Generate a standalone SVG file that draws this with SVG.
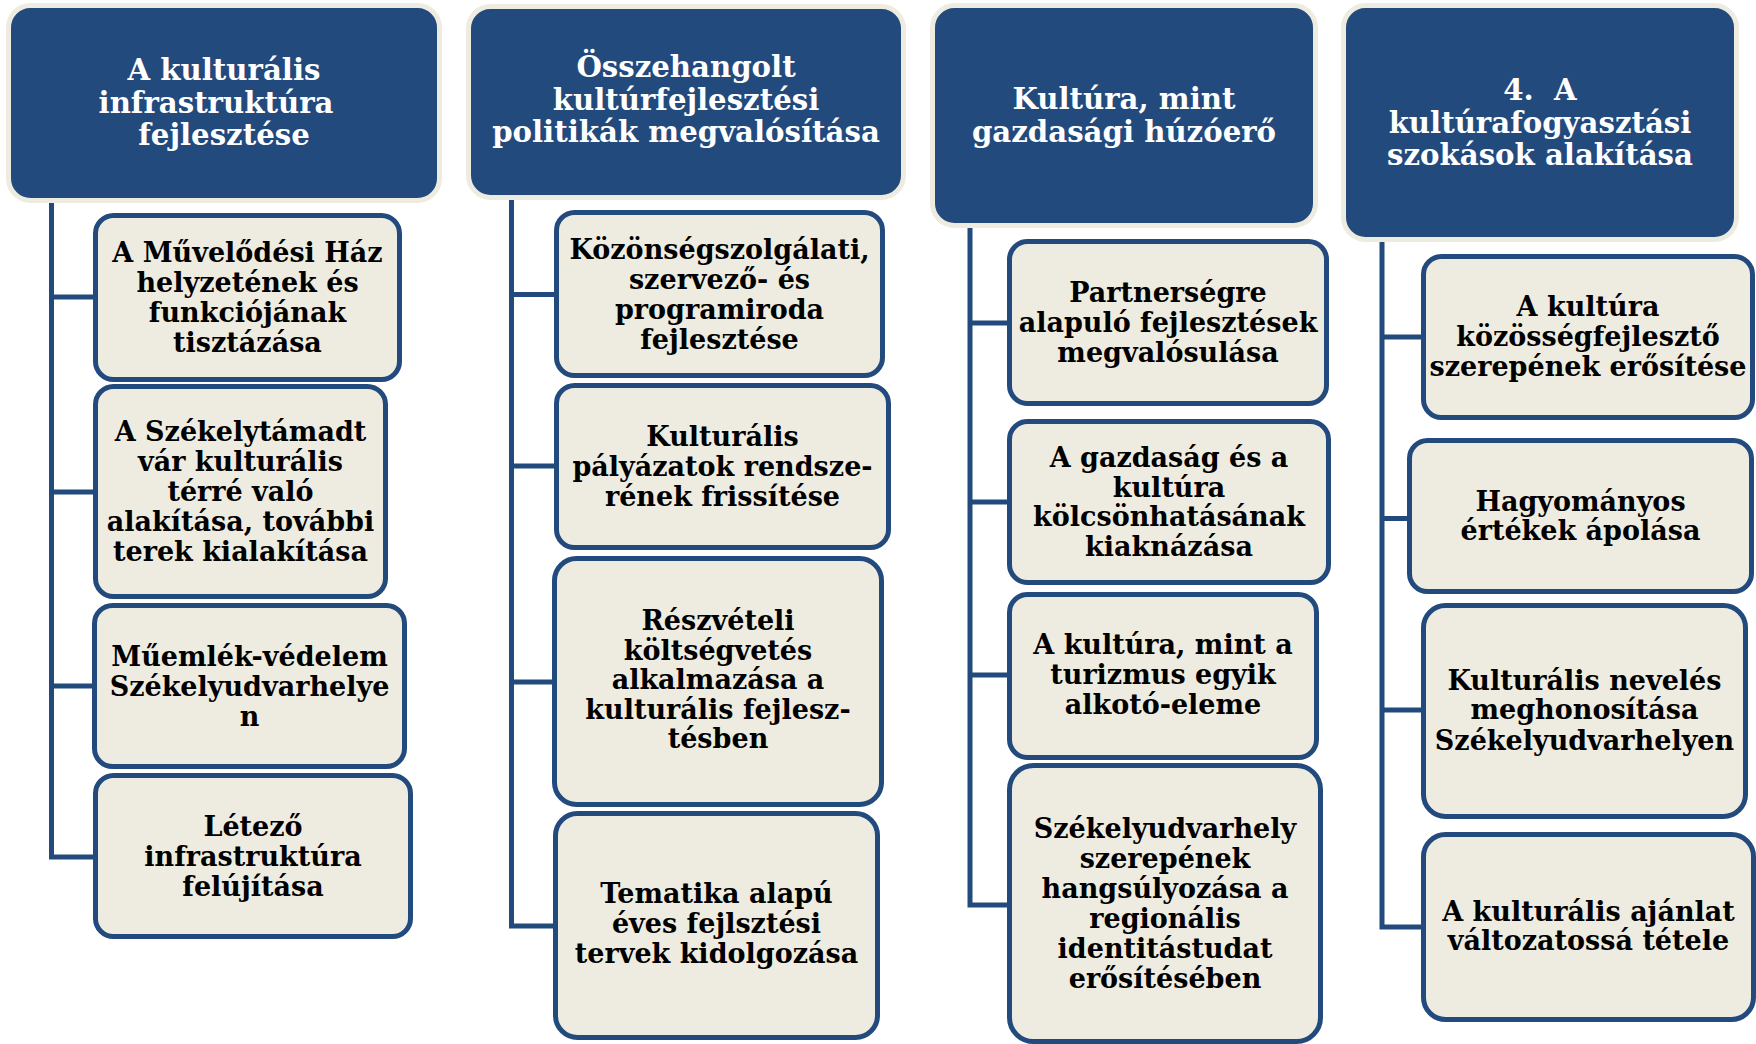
<svg xmlns="http://www.w3.org/2000/svg" width="1756" height="1044" viewBox="0 0 1756 1044">
<style>
.hdr rect{fill:#234A7D;stroke:#EEECE1;stroke-width:5}
.hdr text{fill:#FFFFFF;font-family:"DejaVu Serif","Liberation Serif",serif;font-weight:bold;font-size:29.2px;text-anchor:middle}
.box rect{fill:#EEECE1;stroke:#234A7D;stroke-width:5}
.box text{fill:#000000;font-family:"DejaVu Serif","Liberation Serif",serif;font-weight:bold;font-size:27px;text-anchor:middle}
.conn path{fill:none;stroke:#234A7D;stroke-width:5;stroke-linejoin:miter}
</style>
<rect x="0" y="0" width="1756" height="1044" fill="#FFFFFF"/>
<g id="connectors" class="conn">
<path d="M51.5 198 V857 M49 297 H95 M49 492 H95 M49 686 H94 M49 857 H95"/>
<path d="M511.5 195 V926 M509 294.5 H556 M509 466 H556 M509 682 H554 M509 926 H555"/>
<path d="M970 223 V905 M967.5 323 H1009 M967.5 502 H1009 M967.5 675 H1009 M967.5 905 H1009"/>
<path d="M1382 237 V927 M1379.5 337 H1423 M1379.5 518.5 H1409 M1379.5 710 H1423 M1379.5 927 H1423"/>
</g>
<g id="h1" class="hdr"><rect x="8.5" y="5.5" width="431" height="195" rx="22"/>
<text><tspan x="224" y="80">A kulturális</tspan><tspan x="216" y="112.5">infrastruktúra</tspan><tspan x="224" y="145">fejlesztése</tspan></text></g>
<g id="h2" class="hdr"><rect x="468.5" y="6.5" width="435" height="191" rx="22"/>
<text><tspan x="686" y="77">Összehangolt</tspan><tspan x="686" y="109.5">kultúrfejlesztési</tspan><tspan x="686" y="142">politikák megvalósítása</tspan></text></g>
<g id="h3" class="hdr"><rect x="932.5" y="5.5" width="383" height="220" rx="22"/>
<text><tspan x="1124" y="109">Kultúra, mint</tspan><tspan x="1124" y="141.5">gazdasági húzóerő</tspan></text></g>
<g id="h4" class="hdr"><rect x="1343.5" y="5.5" width="393" height="234" rx="22"/>
<text xml:space="preserve"><tspan x="1540" y="100">4.  A</tspan><tspan x="1540" y="132.5">kultúrafogyasztási</tspan><tspan x="1540" y="165">szokások alakítása</tspan></text></g>

<g id="c1-1" class="box"><rect x="95.5" y="215.5" width="304" height="164" rx="18"/>
<text><tspan x="247.5" y="262">A Művelődési Ház</tspan><tspan x="247.5" y="292">helyzetének és</tspan><tspan x="247.5" y="322">funkciójának</tspan><tspan x="247.5" y="352">tisztázása</tspan></text></g>
<g id="c1-2" class="box"><rect x="95.5" y="386.5" width="290" height="210" rx="18"/>
<text><tspan x="240.5" y="441">A Székelytámadt</tspan><tspan x="240.5" y="471">vár kulturális</tspan><tspan x="240.5" y="501">térré való</tspan><tspan x="240.5" y="531">alakítása, további</tspan><tspan x="240.5" y="561">terek kialakítása</tspan></text></g>
<g id="c1-3" class="box"><rect x="94.5" y="605.5" width="310" height="161" rx="18"/>
<text><tspan x="249.5" y="665.5">Műemlék-védelem</tspan><tspan x="249.5" y="695.5">Székelyudvarhelye</tspan><tspan x="249.5" y="725.5">n</tspan></text></g>
<g id="c1-4" class="box"><rect x="95.5" y="775.5" width="315" height="161" rx="18"/>
<text><tspan x="253" y="835.5">Létező</tspan><tspan x="253" y="865.5">infrastruktúra</tspan><tspan x="253" y="895.5">felújítása</tspan></text></g>

<g id="c2-1" class="box"><rect x="556.5" y="212.5" width="326" height="163" rx="18"/>
<text><tspan x="719.5" y="258.5">Közönségszolgálati,</tspan><tspan x="719.5" y="288.5">szervező- és</tspan><tspan x="719.5" y="318.5">programiroda</tspan><tspan x="719.5" y="348.5">fejlesztése</tspan></text></g>
<g id="c2-2" class="box"><rect x="556.5" y="385.5" width="332" height="162" rx="18"/>
<text><tspan x="722.5" y="446">Kulturális</tspan><tspan x="722.5" y="476">pályázatok rendsze-</tspan><tspan x="722.5" y="506">rének frissítése</tspan></text></g>
<g id="c2-3" class="box"><rect x="554.5" y="558.5" width="327" height="246" rx="22"/>
<text><tspan x="718" y="630">Részvételi</tspan><tspan x="718" y="659.5">költségvetés</tspan><tspan x="718" y="689">alkalmazása a</tspan><tspan x="718" y="718.5">kulturális fejlesz-</tspan><tspan x="718" y="748">tésben</tspan></text></g>
<g id="c2-4" class="box"><rect x="555.5" y="813.5" width="322" height="224" rx="22"/>
<text><tspan x="716.5" y="903">Tematika alapú</tspan><tspan x="716.5" y="933">éves fejlsztési</tspan><tspan x="716.5" y="963">tervek kidolgozása</tspan></text></g>

<g id="c3-1" class="box"><rect x="1009.5" y="241.5" width="317" height="162" rx="18"/>
<text><tspan x="1168" y="302">Partnerségre</tspan><tspan x="1168" y="332">alapuló fejlesztések</tspan><tspan x="1168" y="362">megvalósulása</tspan></text></g>
<g id="c3-2" class="box"><rect x="1009.5" y="421.5" width="319" height="161" rx="18"/>
<text><tspan x="1169" y="466.5">A gazdaság és a</tspan><tspan x="1169" y="496.5">kultúra</tspan><tspan x="1169" y="526">kölcsönhatásának</tspan><tspan x="1169" y="555.5">kiaknázása</tspan></text></g>
<g id="c3-3" class="box"><rect x="1009.5" y="594.5" width="307" height="163" rx="18"/>
<text><tspan x="1163" y="654">A kultúra, mint a</tspan><tspan x="1163" y="684">turizmus egyik</tspan><tspan x="1163" y="714">alkotó-eleme</tspan></text></g>
<g id="c3-4" class="box"><rect x="1009.5" y="765.5" width="311" height="276" rx="24"/>
<text><tspan x="1165" y="837.5">Székelyudvarhely</tspan><tspan x="1165" y="867.5">szerepének</tspan><tspan x="1165" y="897.5">hangsúlyozása a</tspan><tspan x="1165" y="927.5">regionális</tspan><tspan x="1165" y="957.5">identitástudat</tspan><tspan x="1165" y="987.5">erősítésében</tspan></text></g>

<g id="c4-1" class="box"><rect x="1423.5" y="256.5" width="329" height="161" rx="18"/>
<text><tspan x="1588" y="316">A kultúra</tspan><tspan x="1588" y="346">közösségfejlesztő</tspan><tspan x="1588" y="375.5">szerepének erősítése</tspan></text></g>
<g id="c4-2" class="box"><rect x="1409.5" y="440.5" width="342" height="151" rx="18"/>
<text><tspan x="1580.5" y="510.5">Hagyományos</tspan><tspan x="1580.5" y="540">értékek ápolása</tspan></text></g>
<g id="c4-3" class="box"><rect x="1423.5" y="605.5" width="322" height="211" rx="22"/>
<text><tspan x="1584.5" y="689.5">Kulturális nevelés</tspan><tspan x="1584.5" y="719">meghonosítása</tspan><tspan x="1584.5" y="749.5">Székelyudvarhelyen</tspan></text></g>
<g id="c4-4" class="box"><rect x="1423.5" y="834.5" width="330" height="185" rx="22"/>
<text><tspan x="1588.5" y="921">A kulturális ajánlat</tspan><tspan x="1588.5" y="950">változatossá tétele</tspan></text></g>
</svg>
